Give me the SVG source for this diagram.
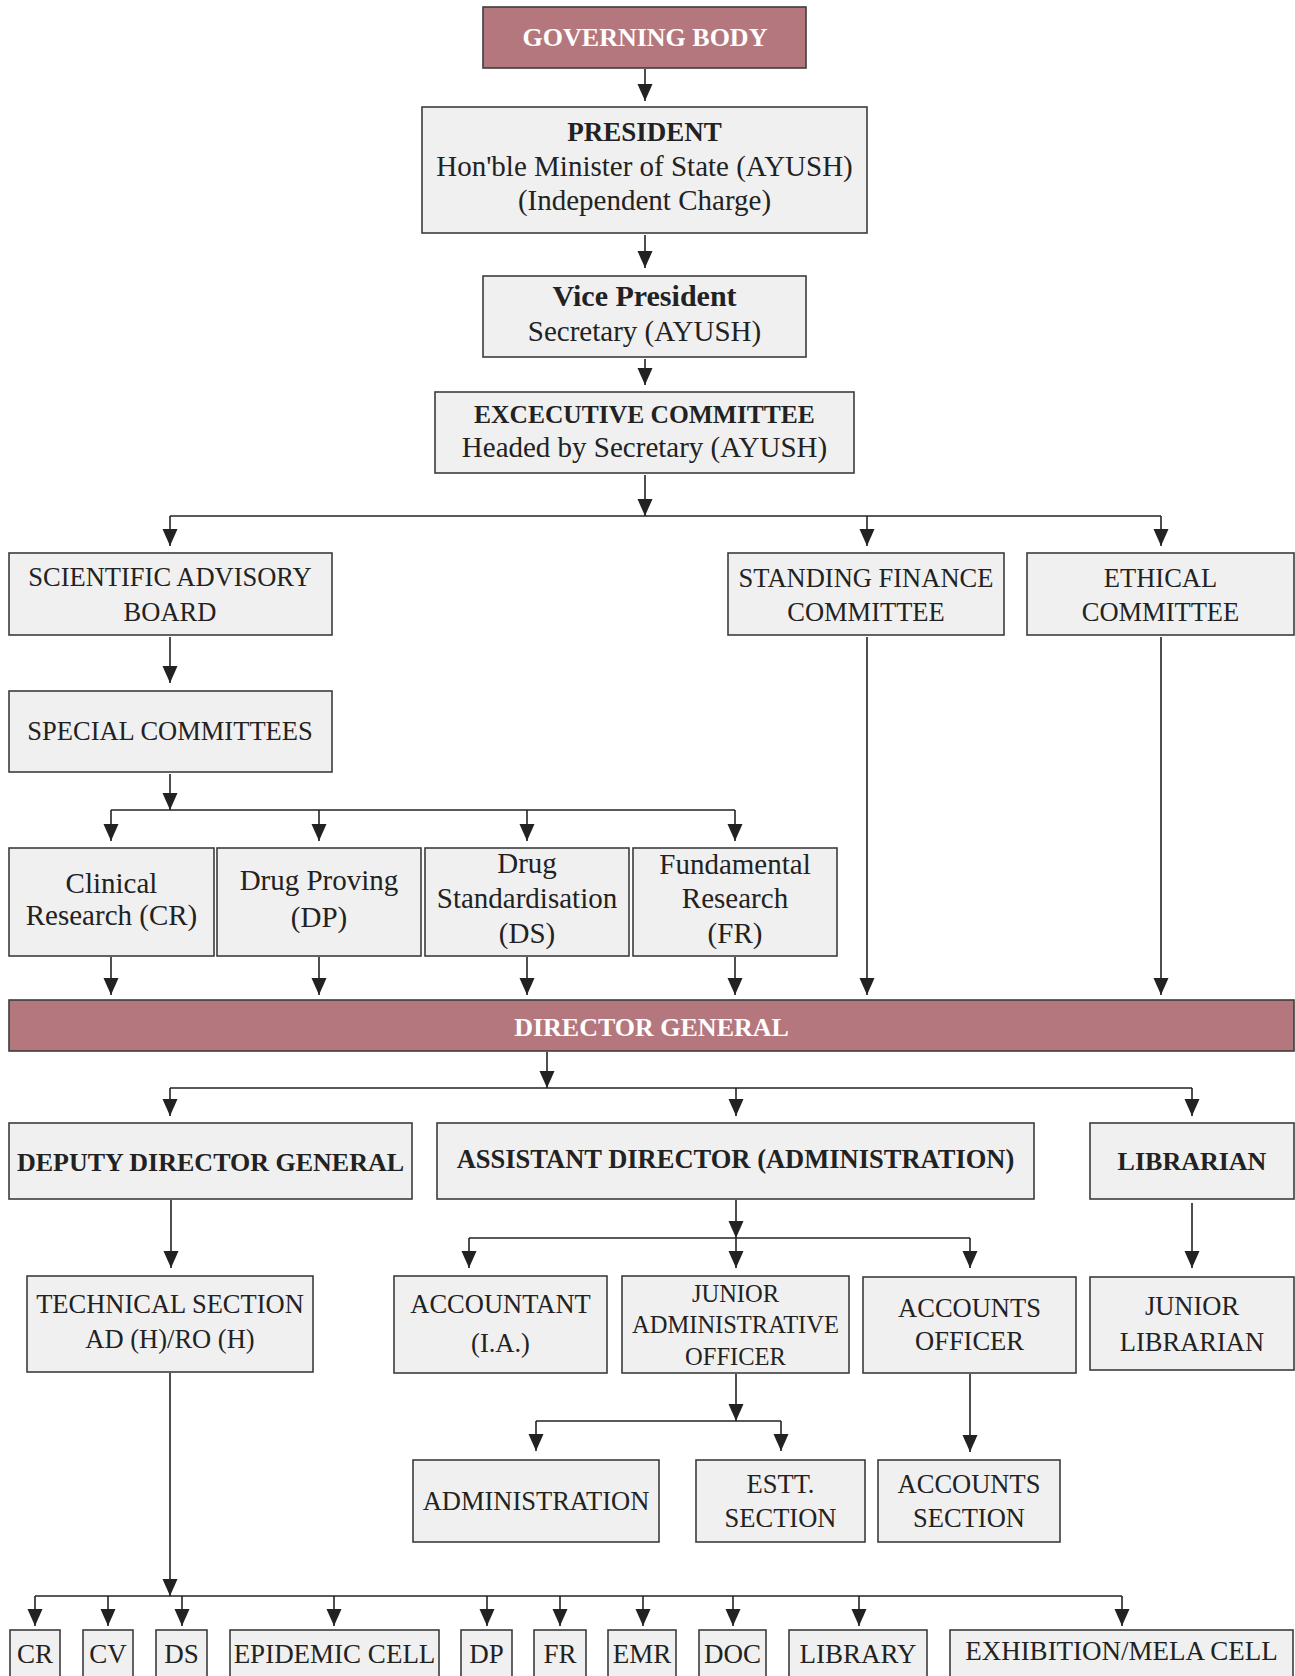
<svg xmlns="http://www.w3.org/2000/svg" width="1295" height="1676" viewBox="0 0 1295 1676">
<style>
.box{fill:#f0f0f0;stroke:#3c3c3c;stroke-width:1.6}
.hl{fill:#b5777e;stroke:#3c3c3c;stroke-width:1.6}
text{font-family:"Liberation Serif","Times New Roman",serif;font-size:26.5px;fill:#222;text-anchor:middle}
.m{font-size:29px}
.b{font-weight:bold}
.w{fill:#fff}
.s{font-size:24.5px}
.ln{stroke:#222;stroke-width:1.6;fill:none}
.ar{stroke:#222;stroke-width:1.6;fill:none;marker-end:url(#ah)}
</style>
<defs>
<marker id="ah" markerUnits="userSpaceOnUse" viewBox="0 -8 17 16" markerWidth="17" markerHeight="16" refX="17" refY="0" orient="auto">
<path d="M0,-7.5 L17,0 L0,7.5 Z" fill="#222"/>
</marker>
</defs>
<rect width="1295" height="1676" fill="#fff"/>

<g id="connectors">
<path class="ar" d="M645,69 V101"/>
<path class="ar" d="M645,235 V268"/>
<path class="ar" d="M645,359 V385"/>
<path class="ar" d="M645,475 V516"/>
<path class="ln" d="M170,516 H1161"/>
<path class="ar" d="M170,516 V546"/>
<path class="ar" d="M867,516 V546"/>
<path class="ar" d="M1161,516 V546"/>
<path class="ar" d="M170,637 V683"/>
<path class="ar" d="M170,774 V810"/>
<path class="ln" d="M111,810 H735"/>
<path class="ar" d="M111,810 V841"/>
<path class="ar" d="M319,810 V841"/>
<path class="ar" d="M527,810 V841"/>
<path class="ar" d="M735,810 V841"/>
<path class="ar" d="M111,957 V995"/>
<path class="ar" d="M319,957 V995"/>
<path class="ar" d="M527,957 V995"/>
<path class="ar" d="M735,957 V995"/>
<path class="ar" d="M867,637 V995"/>
<path class="ar" d="M1161,637 V995"/>
<path class="ar" d="M547,1052 V1088"/>
<path class="ln" d="M170,1088 H1192"/>
<path class="ar" d="M170,1088 V1116"/>
<path class="ar" d="M736,1088 V1116"/>
<path class="ar" d="M1192,1088 V1116"/>
<path class="ar" d="M171,1200 V1268"/>
<path class="ar" d="M736,1200 V1238"/>
<path class="ln" d="M469,1238 H970"/>
<path class="ar" d="M469,1238 V1268"/>
<path class="ar" d="M736,1238 V1268"/>
<path class="ar" d="M970,1238 V1268"/>
<path class="ar" d="M1192,1203 V1268"/>
<path class="ar" d="M736,1374 V1421"/>
<path class="ln" d="M536,1421 H781"/>
<path class="ar" d="M536,1421 V1451"/>
<path class="ar" d="M781,1421 V1451"/>
<path class="ar" d="M970,1374 V1452"/>
<path class="ar" d="M170,1373 V1596"/>
<path class="ln" d="M35,1596 H1122"/>
<path class="ar" d="M35,1596 V1626"/>
<path class="ar" d="M108,1596 V1626"/>
<path class="ar" d="M182,1596 V1626"/>
<path class="ar" d="M334,1596 V1626"/>
<path class="ar" d="M487,1596 V1626"/>
<path class="ar" d="M560,1596 V1626"/>
<path class="ar" d="M643,1596 V1626"/>
<path class="ar" d="M733,1596 V1626"/>
<path class="ar" d="M859,1596 V1626"/>
<path class="ar" d="M1122,1596 V1626"/>
</g>

<g id="governing-body"><rect class="hl" x="483" y="7" width="323" height="61"/><text class="b w" x="645" y="46" style="font-size:26px">GOVERNING BODY</text></g>
<g id="president"><rect class="box" x="422" y="107" width="445" height="126"/><text class="b" x="644.5" y="141" style="font-size:27px">PRESIDENT</text><text class="m" x="644.5" y="176">Hon'ble Minister of State (AYUSH)</text><text class="m" x="644.5" y="210">(Independent Charge)</text></g>
<g id="vice-president"><rect class="box" x="483" y="276" width="323" height="81"/><text class="b" x="644.5" y="306" style="font-size:30px">Vice President</text><text class="m" x="644.5" y="341">Secretary (AYUSH)</text></g>
<g id="executive-committee"><rect class="box" x="435" y="392" width="419" height="81"/><text class="b" x="644.5" y="423" style="font-size:25.5px">EXCECUTIVE COMMITTEE</text><text class="m" x="644.5" y="457">Headed by Secretary (AYUSH)</text></g>
<g id="scientific-advisory-board"><rect class="box" x="9" y="553" width="323" height="82"/><text x="170" y="586">SCIENTIFIC ADVISORY</text><text x="170" y="621">BOARD</text></g>
<g id="standing-finance-committee"><rect class="box" x="728" y="553" width="276" height="82"/><text x="866" y="587">STANDING FINANCE</text><text x="866" y="621">COMMITTEE</text></g>
<g id="ethical-committee"><rect class="box" x="1027" y="553" width="267" height="82"/><text x="1160.5" y="587">ETHICAL</text><text x="1160.5" y="621">COMMITTEE</text></g>
<g id="special-committees"><rect class="box" x="9" y="691" width="323" height="81"/><text x="170" y="740">SPECIAL COMMITTEES</text></g>
<g id="clinical-research"><rect class="box" x="9" y="848" width="205" height="108"/><text class="m" x="111.5" y="893">Clinical</text><text class="m" x="111.5" y="925">Research (CR)</text></g>
<g id="drug-proving"><rect class="box" x="217" y="848" width="204" height="108"/><text class="m" x="319" y="890">Drug Proving</text><text class="m" x="319" y="927">(DP)</text></g>
<g id="drug-standardisation"><rect class="box" x="425" y="848" width="204" height="108"/><text class="m" x="527" y="873">Drug</text><text class="m" x="527" y="908">Standardisation</text><text class="m" x="527" y="943">(DS)</text></g>
<g id="fundamental-research"><rect class="box" x="633" y="848" width="204" height="108"/><text class="m" x="735" y="874">Fundamental</text><text class="m" x="735" y="908">Research</text><text class="m" x="735" y="943">(FR)</text></g>
<g id="director-general"><rect class="hl" x="9" y="1000" width="1285" height="51"/><text class="b w" x="651.5" y="1036" style="font-size:26px">DIRECTOR GENERAL</text></g>
<g id="deputy-director-general"><rect class="box" x="9" y="1123" width="403" height="76"/><text class="b" x="210.5" y="1171" style="font-size:26px">DEPUTY DIRECTOR GENERAL</text></g>
<g id="assistant-director"><rect class="box" x="437" y="1123" width="597" height="76"/><text class="b" x="735.5" y="1168">ASSISTANT DIRECTOR (ADMINISTRATION)</text></g>
<g id="librarian"><rect class="box" x="1090" y="1123" width="204" height="76"/><text class="b" x="1192" y="1170" style="font-size:26px">LIBRARIAN</text></g>
<g id="technical-section"><rect class="box" x="27" y="1276" width="286" height="96"/><text x="170" y="1313">TECHNICAL SECTION</text><text x="170" y="1348">AD (H)/RO (H)</text></g>
<g id="accountant"><rect class="box" x="394" y="1276" width="213" height="97"/><text x="500.5" y="1313">ACCOUNTANT</text><text x="500.5" y="1352">(I.A.)</text></g>
<g id="junior-administrative-officer"><rect class="box" x="622" y="1276" width="227" height="97"/><text class="s" x="735.5" y="1302">JUNIOR</text><text class="s" x="735.5" y="1333">ADMINISTRATIVE</text><text class="s" x="735.5" y="1365">OFFICER</text></g>
<g id="accounts-officer"><rect class="box" x="863" y="1277" width="213" height="96"/><text x="969.5" y="1317">ACCOUNTS</text><text x="969.5" y="1350">OFFICER</text></g>
<g id="junior-librarian"><rect class="box" x="1090" y="1277" width="204" height="93"/><text x="1192" y="1315">JUNIOR</text><text x="1192" y="1351">LIBRARIAN</text></g>
<g id="administration"><rect class="box" x="413" y="1460" width="246" height="82"/><text x="536" y="1510">ADMINISTRATION</text></g>
<g id="estt-section"><rect class="box" x="696" y="1460" width="169" height="82"/><text x="780.5" y="1493">ESTT.</text><text x="780.5" y="1527">SECTION</text></g>
<g id="accounts-section"><rect class="box" x="878" y="1460" width="182" height="82"/><text x="969" y="1493">ACCOUNTS</text><text x="969" y="1527">SECTION</text></g>
<g id="cr"><rect class="box" x="10" y="1630" width="50" height="70"/><text x="35" y="1663" style="font-size:27px">CR</text></g>
<g id="cv"><rect class="box" x="83" y="1630" width="50" height="70"/><text x="108" y="1663" style="font-size:27px">CV</text></g>
<g id="ds"><rect class="box" x="156" y="1630" width="51" height="70"/><text x="181.5" y="1663" style="font-size:27px">DS</text></g>
<g id="epidemic-cell"><rect class="box" x="230" y="1630" width="209" height="70"/><text x="334.5" y="1663" style="font-size:27px">EPIDEMIC CELL</text></g>
<g id="dp"><rect class="box" x="461" y="1630" width="51" height="70"/><text x="486.5" y="1663" style="font-size:27px">DP</text></g>
<g id="fr"><rect class="box" x="534" y="1630" width="52" height="70"/><text x="560" y="1663" style="font-size:27px">FR</text></g>
<g id="emr"><rect class="box" x="608" y="1630" width="68" height="70"/><text x="642" y="1663" style="font-size:27px">EMR</text></g>
<g id="doc"><rect class="box" x="699" y="1630" width="67" height="70"/><text x="732.5" y="1663" style="font-size:27px">DOC</text></g>
<g id="library"><rect class="box" x="789" y="1630" width="138" height="70"/><text x="858" y="1663" style="font-size:27px">LIBRARY</text></g>
<g id="exhibition-mela-cell"><rect class="box" x="950" y="1630" width="343" height="70"/><text x="1121.5" y="1660" style="font-size:27px">EXHIBITION/MELA CELL</text></g>
</svg>
